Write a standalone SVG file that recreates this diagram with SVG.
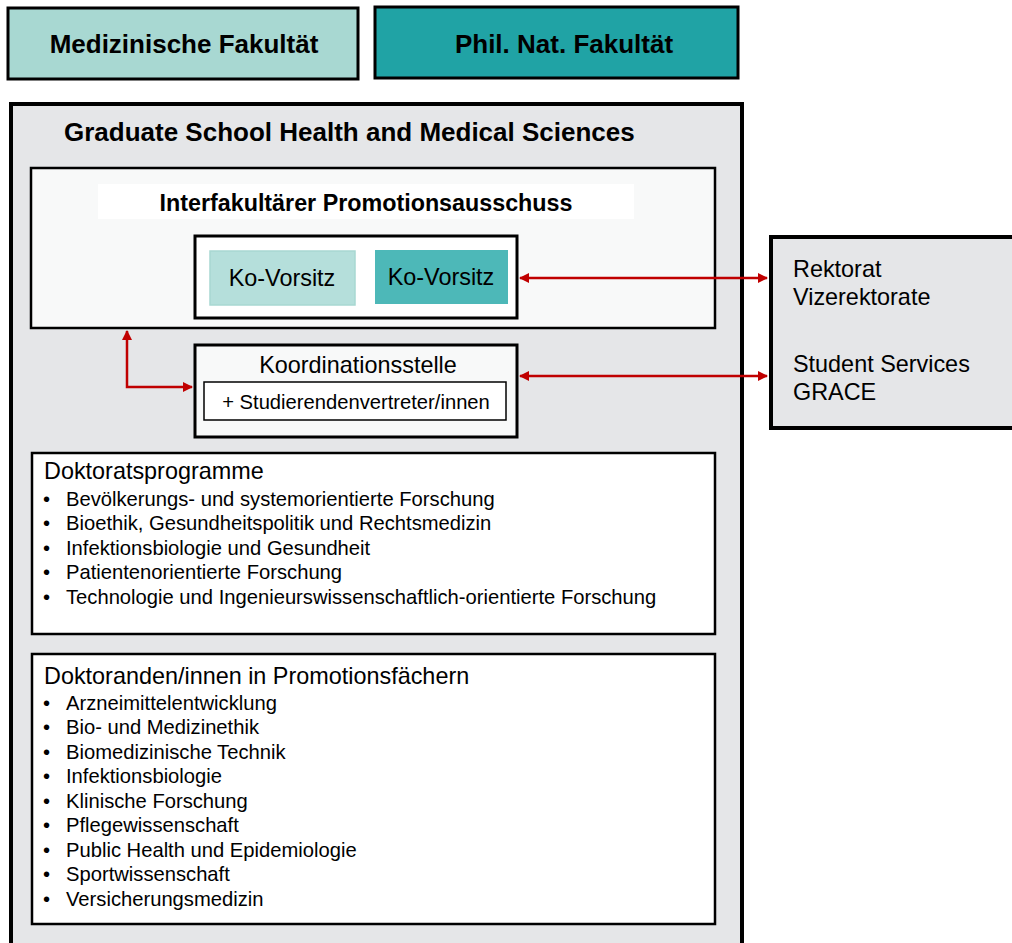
<svg xmlns="http://www.w3.org/2000/svg" width="1012" height="943" viewBox="0 0 1012 943">
<style>
text{font-family:"Liberation Sans",Arial,sans-serif;fill:#000}
.b{font-weight:bold}
.t23{font-size:23.4px}
.t20{font-size:20.2px}
</style>
<defs>
<marker id="ah" viewBox="0 0 10 10" refX="9" refY="5" markerWidth="4" markerHeight="4" orient="auto-start-reverse" markerUnits="strokeWidth">
<path d="M0,0 L10,5 L0,10 z" fill="#C00000"/>
</marker>
</defs>
<rect width="1012" height="943" fill="#fff"/>
<g id="med-fak">
<rect x="8" y="8" width="350" height="71" fill="#A8D8D2" stroke="#000" stroke-width="3"/>
<text x="184" y="53" class="b" font-size="26" text-anchor="middle">Medizinische Fakultät</text>
</g>
<g id="phil-nat">
<rect x="375" y="7" width="363" height="71" fill="#20A3A5" stroke="#000" stroke-width="3"/>
<text x="564" y="53" class="b" font-size="26" text-anchor="middle">Phil. Nat. Fakultät</text>
</g>
<g id="graduate-school">
<rect x="11" y="104" width="731" height="850" fill="#E5E6E8" stroke="#000" stroke-width="4"/>
<text x="64" y="141" class="b" font-size="26">Graduate School Health and Medical Sciences</text>
</g>
<g id="promotionsausschuss">
<rect x="31" y="168" width="684" height="160" fill="#F8F9F9" stroke="#000" stroke-width="2.5"/>
<rect x="98" y="184" width="536" height="35" fill="#fff"/>
<text x="366" y="211" class="b" font-size="23.3" text-anchor="middle">Interfakultärer Promotionsausschuss</text>
</g>
<g id="ko-vorsitz-group">
<rect x="195" y="236" width="322" height="82" fill="#fff" stroke="#000" stroke-width="3"/>
</g>
<g id="ko-vorsitz-1">
<rect x="210" y="251" width="145" height="54" fill="#B5DFDB" stroke="#A8D8D2" stroke-width="1.5"/>
<text x="282" y="286" class="t23" text-anchor="middle">Ko-Vorsitz</text>
</g>
<g id="ko-vorsitz-2">
<rect x="375" y="250" width="133" height="54" fill="#4DB8B8"/>
<text x="441" y="285" class="t23" text-anchor="middle">Ko-Vorsitz</text>
</g>
<g id="koordinationsstelle">
<rect x="195" y="345" width="322" height="92" fill="#F8F9F9" stroke="#000" stroke-width="3"/>
<text x="358" y="373" class="t23" text-anchor="middle">Koordinationsstelle</text>
<rect x="204" y="382" width="302" height="38" fill="#fff" stroke="#000" stroke-width="1.5"/>
<text x="356" y="409" class="t20" text-anchor="middle">+ Studierendenvertreter/innen</text>
</g>
<g id="rektorat">
<rect x="771" y="237" width="260" height="191" fill="#E5E6E8" stroke="#000" stroke-width="4"/>
<text x="793" y="277" class="t23">Rektorat</text>
<text x="793" y="305" class="t23">Vizerektorate</text>
<text x="793" y="372" class="t23">Student Services</text>
<text x="793" y="400" class="t23">GRACE</text>
</g>
<g id="doktoratsprogramme">
<rect x="32" y="453" width="683" height="181" fill="#fff" stroke="#000" stroke-width="2.5"/>
<text x="44" y="479" class="t23">Doktoratsprogramme</text>
<g class="t20">
<text x="43" y="506">•</text><text x="66" y="506">Bevölkerungs- und systemorientierte Forschung</text>
<text x="43" y="530">•</text><text x="66" y="530">Bioethik, Gesundheitspolitik und Rechtsmedizin</text>
<text x="43" y="555">•</text><text x="66" y="555">Infektionsbiologie und Gesundheit</text>
<text x="43" y="579">•</text><text x="66" y="579">Patientenorientierte Forschung</text>
<text x="43" y="604">•</text><text x="66" y="604">Technologie und Ingenieurswissenschaftlich-orientierte Forschung</text>
</g>
</g>
<g id="doktoranden">
<rect x="32" y="654" width="683" height="270" fill="#fff" stroke="#000" stroke-width="2.5"/>
<text x="44" y="684" class="t23">Doktoranden/innen in Promotionsfächern</text>
<g class="t20">
<text x="43" y="710">•</text><text x="66" y="710">Arzneimittelentwicklung</text>
<text x="43" y="734">•</text><text x="66" y="734">Bio- und Medizinethik</text>
<text x="43" y="759">•</text><text x="66" y="759">Biomedizinische Technik</text>
<text x="43" y="783">•</text><text x="66" y="783">Infektionsbiologie</text>
<text x="43" y="808">•</text><text x="66" y="808">Klinische Forschung</text>
<text x="43" y="832">•</text><text x="66" y="832">Pflegewissenschaft</text>
<text x="43" y="857">•</text><text x="66" y="857">Public Health und Epidemiologie</text>
<text x="43" y="881">•</text><text x="66" y="881">Sportwissenschaft</text>
<text x="43" y="906">•</text><text x="66" y="906">Versicherungsmedizin</text>
</g>
</g>
<g id="connectors" fill="none" stroke="#C00000" stroke-width="2.5">
<path d="M520,278 L767,278" marker-start="url(#ah)" marker-end="url(#ah)"/>
<path d="M520,376 L767,376" marker-start="url(#ah)" marker-end="url(#ah)"/>
<path d="M127,331 L127,387 L192,387" marker-start="url(#ah)" marker-end="url(#ah)"/>
</g>
</svg>
